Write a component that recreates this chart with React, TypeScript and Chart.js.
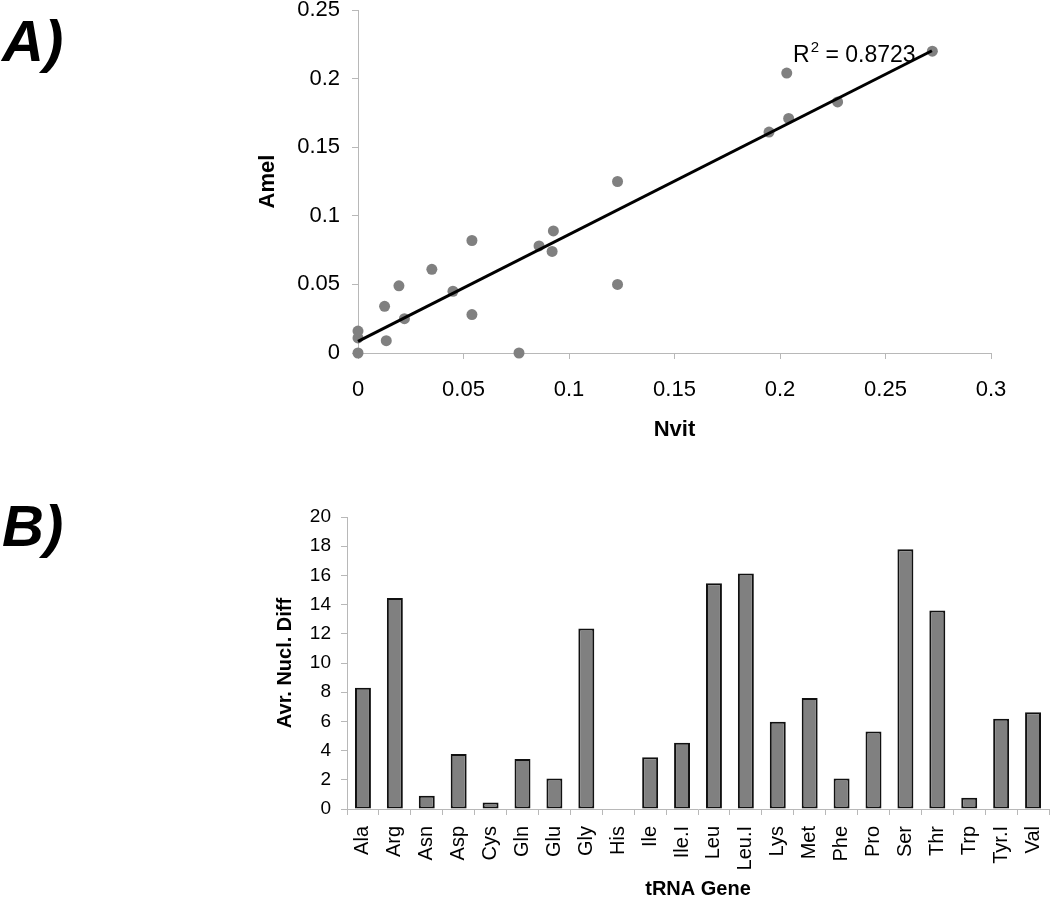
import React, { useEffect, useRef } from "react";
import { Chart, registerables } from "chart.js";

Chart.register(...registerables);

const FONT = '"Liberation Sans", Arial, Helvetica, sans-serif';
const AXIS_GRAY = "#b8b8b8";

// ---------- Panel A: scatter (Nvit vs Amel) ----------
const nvitValues = [
  0, 0, 0, 0.0126, 0.0134, 0.0194, 0.022, 0.035, 0.045, 0.054, 0.054,
  0.0763, 0.0858, 0.0926, 0.092, 0.123, 0.123, 0.1948, 0.2032, 0.2041,
  0.2273, 0.2722,
];
const amelValues = [
  0.016, 0.011, 0, 0.034, 0.009, 0.049, 0.025, 0.061, 0.045, 0.082, 0.028,
  0, 0.078, 0.089, 0.074, 0.125, 0.05, 0.161, 0.204, 0.171, 0.183, 0.22,
];
const trendX = [0, 0.272];
const trendY = [0.0085, 0.2203];
const rSquaredValue = "0.8723";
const rSquaredAnchor = { x: 0.2062, y: 0.2123 };
const xTitleA = "Nvit";
const yTitleA = "Amel";

// ---------- Panel B: bars ----------
const genes = [
  "Ala", "Arg", "Asn", "Asp", "Cys", "Gln", "Glu", "Gly", "His", "Ile",
  "Ile.I", "Leu", "Leu.I", "Lys", "Met", "Phe", "Pro", "Ser", "Thr", "Trp",
  "Tyr.I", "Val",
];
const nuclDiff = [
  8.3, 14.45, 0.9, 3.76, 0.45, 3.42, 2.09, 12.37, 0, 3.55,
  4.53, 15.47, 16.13, 5.97, 7.61, 2.09, 5.31, 17.79, 13.6, 0.77,
  6.19, 6.63,
];
const xTitleB = "tRNA Gene";
const yTitleB = "Avr. Nucl. Diff";

const fmt = (v: number | string) => String(parseFloat(Number(v).toFixed(3)));

const rSquaredPlugin = {
  id: "rSquaredLabel",
  afterDatasetsDraw(chart: any) {
    const { ctx, scales } = chart;
    const x0 = scales.x.getPixelForValue(rSquaredAnchor.x);
    const y0 = scales.y.getPixelForValue(rSquaredAnchor.y);
    ctx.save();
    ctx.fillStyle = "#000";
    ctx.textBaseline = "alphabetic";
    ctx.textAlign = "left";
    ctx.font = `23px ${FONT}`;
    ctx.fillText("R", x0, y0);
    const wR = ctx.measureText("R").width;
    ctx.font = `15px ${FONT}`;
    ctx.fillText("2", x0 + wR + 1, y0 - 10);
    const w2 = ctx.measureText("2").width;
    ctx.font = `23px ${FONT}`;
    ctx.fillText(" = " + rSquaredValue, x0 + wR + 1 + w2, y0);
    ctx.restore();
  },
};

export default function App() {
  const scatterRef = useRef<HTMLCanvasElement | null>(null);
  const barRef = useRef<HTMLCanvasElement | null>(null);

  useEffect(() => {
    document.body.style.margin = "0";
    const points = nvitValues.map((x, i) => ({ x, y: amelValues[i] }));
    const trend = trendX.map((x, i) => ({ x, y: trendY[i] }));

    const scatter = new Chart(scatterRef.current as HTMLCanvasElement, {
      type: "scatter",
      data: {
        datasets: [
          {
            data: trend,
            showLine: true,
            borderColor: "#000",
            borderWidth: 3,
            pointRadius: 0,
            fill: false,
            clip: false,
            order: 0,
          } as any,
          {
            data: points,
            backgroundColor: "#808080",
            borderColor: "#808080",
            borderWidth: 0,
            pointRadius: 5.5,
            clip: false,
            order: 1,
          } as any,
        ],
      },
      plugins: [rSquaredPlugin],
      options: {
        animation: false,
        responsive: false,
        devicePixelRatio: 1,
        layout: { padding: { left: 0, top: 30, right: 59, bottom: 0 } },
        plugins: { legend: { display: false }, tooltip: { enabled: false } },
        scales: {
          x: {
            type: "linear",
            min: 0,
            max: 0.3,
            ticks: {
              stepSize: 0.05,
              color: "#000",
              padding: 18,
              font: { family: FONT, size: 22 },
              callback: (v: any) => fmt(v),
            },
            grid: {
              display: true,
              drawOnChartArea: false,
              drawTicks: true,
              tickLength: 6,
              color: AXIS_GRAY,
            },
            border: { display: true, color: AXIS_GRAY, width: 1 },
            title: {
              display: true,
              text: xTitleA,
              color: "#000",
              font: { family: FONT, size: 22, weight: "bold" },
              padding: { top: 0, bottom: 7 },
            },
            afterFit: (s: any) => {
              s.height = 97;
            },
          },
          y: {
            type: "linear",
            min: 0,
            max: 0.25,
            ticks: {
              stepSize: 0.05,
              color: "#000",
              padding: 12,
              font: { family: FONT, size: 22 },
              callback: (v: any) => fmt(v),
            },
            grid: {
              display: true,
              drawOnChartArea: false,
              drawTicks: true,
              tickLength: 6,
              color: AXIS_GRAY,
            },
            border: { display: true, color: AXIS_GRAY, width: 1 },
            title: {
              display: true,
              text: yTitleA,
              color: "#000",
              font: { family: FONT, size: 22, weight: "bold" },
              padding: { top: 55, bottom: 0 },
            },
            afterFit: (s: any) => {
              s.width = 158;
            },
          },
        },
      } as any,
    });

    const bar = new Chart(barRef.current as HTMLCanvasElement, {
      type: "bar",
      data: {
        labels: genes,
        datasets: [
          {
            data: nuclDiff,
            backgroundColor: "#808080",
            borderColor: "#111111",
            borderWidth: (c: any) => (c.raw === 0 ? 0 : 2),
            borderSkipped: false,
            barPercentage: 0.5,
            categoryPercentage: 1,
          } as any,
        ],
      },
      options: {
        animation: false,
        responsive: false,
        devicePixelRatio: 1,
        layout: { padding: { left: 0, top: 37, right: 51, bottom: 0 } },
        plugins: { legend: { display: false }, tooltip: { enabled: false } },
        scales: {
          x: {
            ticks: {
              color: "#000",
              padding: 11,
              minRotation: 90,
              maxRotation: 90,
              autoSkip: false,
              font: { family: FONT, size: 20 },
            },
            grid: {
              display: true,
              offset: true,
              drawOnChartArea: false,
              drawTicks: true,
              tickLength: 6,
              color: AXIS_GRAY,
            },
            border: { display: true, color: AXIS_GRAY, width: 1 },
            title: {
              display: true,
              text: xTitleB,
              color: "#000",
              font: { family: FONT, size: 20, weight: "bold", lineHeight: 1 },
              padding: { top: 0, bottom: 0 },
            },
            afterFit: (s: any) => {
              s.height = 90;
            },
          },
          y: {
            min: 0,
            max: 20,
            ticks: {
              stepSize: 2,
              color: "#000",
              padding: 10,
              font: { family: FONT, size: 19 },
            },
            grid: {
              display: true,
              drawOnChartArea: false,
              drawTicks: true,
              tickLength: 6,
              color: AXIS_GRAY,
            },
            border: { display: true, color: AXIS_GRAY, width: 1 },
            title: {
              display: true,
              text: yTitleB,
              color: "#000",
              font: { family: FONT, size: 20, weight: "bold" },
              padding: { top: 73, bottom: 0 },
            },
            afterFit: (s: any) => {
              s.width = 147;
            },
          },
        },
      } as any,
    });

    return () => {
      scatter.destroy();
      bar.destroy();
    };
  }, []);

  const panelLabel: React.CSSProperties = {
    position: "absolute",
    left: 2,
    fontFamily: FONT,
    fontWeight: "bold",
    fontStyle: "italic",
    fontSize: 58,
    lineHeight: "58px",
    color: "#000",
    whiteSpace: "nowrap",
  };

  return (
    <div
      style={{
        position: "absolute",
        left: 0,
        top: 0,
        width: 1050,
        height: 899,
        overflow: "hidden",
        background: "#fff",
      }}
    >
      <div style={{ ...panelLabel, top: 12 }}>A)</div>
      <div style={{ ...panelLabel, top: 497 }}>B)</div>
      <canvas
        ref={scatterRef}
        width={850}
        height={470}
        style={{ position: "absolute", left: 200, top: -20, width: 850, height: 470 }}
      />
      <canvas
        ref={barRef}
        width={900}
        height={419}
        style={{ position: "absolute", left: 200, top: 480, width: 900, height: 419 }}
      />
    </div>
  );
}
